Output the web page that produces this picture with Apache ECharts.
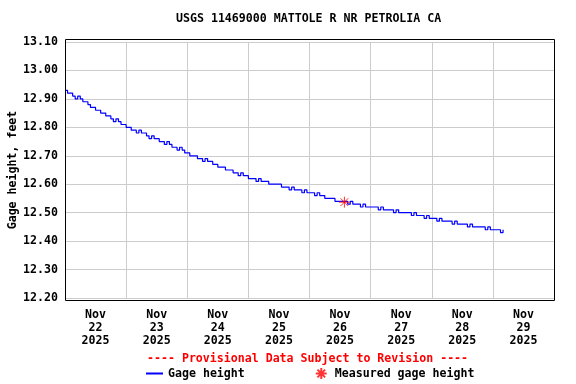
<!DOCTYPE html>
<html>
<head>
<meta charset="utf-8">
<script src="https://cdn.jsdelivr.net/npm/echarts@6/dist/echarts.min.js"></script>
<style>html,body{margin:0;padding:0;background:#fff}#c{width:576px;height:384px}</style>
</head>
<body>
<div id="c"></div>
<script>
// Hourly gage height readings (feet), starting Nov 22 2025 00:00
const day22 = [12.93,12.92,12.92,12.91,12.90,12.91,12.90,12.89,12.89,12.88,12.87,12.87,12.86,12.86,12.85,12.85,12.84,12.84,12.83,12.82,12.83,12.82,12.81,12.81];
const day23 = [12.80,12.80,12.79,12.79,12.78,12.79,12.78,12.78,12.77,12.76,12.77,12.76,12.76,12.75,12.75,12.74,12.75,12.74,12.73,12.73,12.72,12.73,12.72,12.71];
const day24 = [12.71,12.70,12.70,12.70,12.69,12.69,12.68,12.69,12.68,12.68,12.67,12.67,12.66,12.66,12.66,12.65,12.65,12.65,12.64,12.64,12.63,12.64,12.63,12.63];
const day25 = [12.62,12.62,12.62,12.61,12.62,12.61,12.61,12.61,12.60,12.60,12.60,12.60,12.60,12.59,12.59,12.59,12.58,12.59,12.58,12.58,12.58,12.57,12.58,12.57];
const day26 = [12.57,12.57,12.56,12.57,12.56,12.56,12.55,12.55,12.55,12.55,12.54,12.54,12.54,12.54,12.54,12.53,12.54,12.53,12.53,12.53,12.52,12.53,12.52,12.52];
const day27 = [12.52,12.52,12.52,12.51,12.52,12.51,12.51,12.51,12.51,12.50,12.51,12.50,12.50,12.50,12.50,12.50,12.49,12.50,12.49,12.49,12.49,12.48,12.49,12.48];
const day28 = [12.48,12.48,12.47,12.48,12.47,12.47,12.47,12.47,12.46,12.47,12.46,12.46,12.46,12.46,12.45,12.46,12.45,12.45,12.45,12.45,12.45,12.44,12.45,12.44];
const day29 = [12.44,12.44,12.44,12.43,12.44];
const gageHeight = [].concat(day22, day23, day24, day25, day26, day27, day28, day29);

// Measured gage height: [hours since Nov 22 00:00, feet]
const measured = [[109.7, 12.537]];

const dayLabels = ['Nov\n22\n2025','Nov\n23\n2025','Nov\n24\n2025','Nov\n25\n2025','Nov\n26\n2025','Nov\n27\n2025','Nov\n28\n2025','Nov\n29\n2025'];
const yTicks = {min: 12.2, max: 13.1, interval: 0.1};

const FONT = '"DejaVu Sans Mono", monospace';
const FS = 11.6;

const chart = echarts.init(document.getElementById('c'), null, {renderer: 'canvas'});
chart.setOption({
  animation: false,
  backgroundColor: '#ffffff',
  title: [{
    text: 'USGS 11469000 MATTOLE R NR PETROLIA CA',
    left: 176, top: 13, padding: 0,
    textStyle: {fontFamily: FONT, fontSize: FS, fontWeight: 'bold', color: '#000'}
  }, {
    text: '---- Provisional Data Subject to Revision ----',
    left: 147, top: 353, padding: 0,
    textStyle: {fontFamily: FONT, fontSize: FS, fontWeight: 'bold', color: '#ff0000'}
  }],
  legend: {
    left: 145, top: 367, padding: 0,
    itemWidth: 17, itemHeight: 11, itemGap: 70,
    textStyle: {fontFamily: FONT, fontSize: FS, fontWeight: 'bold', color: '#000'},
    data: [
      {name: 'Gage height', itemStyle: {opacity: 0}},
      {name: 'Measured gage height'}
    ]
  },
  grid: {left: 65, right: 22, top: 42, bottom: 86, containLabel: false, outerBoundsMode: 'none'},
  xAxis: [{
    type: 'value', min: 0, max: 192, show: false
  }, {
    type: 'category', data: dayLabels, boundaryGap: true, position: 'bottom',
    axisLine: {show: false}, axisTick: {show: false},
    axisLabel: {margin: 10, fontFamily: FONT, fontSize: FS, fontWeight: 'bold', color: '#000', lineHeight: 13, interval: 0},
    splitLine: {show: true, lineStyle: {color: '#cccccc', width: 1}}
  }],
  yAxis: {
    type: 'value', min: yTicks.min, max: yTicks.max, interval: yTicks.interval,
    name: 'Gage height, feet', nameLocation: 'middle', nameGap: 46, nameMoveOverlap: false,
    nameTextStyle: {fontFamily: FONT, fontSize: FS, fontWeight: 'bold', color: '#000'},
    axisLine: {show: false}, axisTick: {show: false},
    axisLabel: {margin: 7, fontFamily: FONT, fontSize: FS, fontWeight: 'bold', color: '#000', formatter: v => v.toFixed(2)},
    splitLine: {show: true, lineStyle: {color: '#cccccc', width: 1}}
  },
  graphic: [{
    type: 'rect', z: 100, silent: true,
    shape: {x: 65.5, y: 39.5, width: 489, height: 261},
    style: {fill: 'none', stroke: '#000', lineWidth: 1}
  }],
  series: [{
    name: 'Gage height', type: 'line', xAxisIndex: 0, step: 'end',
    color: '#0000ff',
    data: gageHeight.map((v, i) => [i, v]),
    symbol: 'none', showSymbol: false,
    lineStyle: {color: '#0000ff', width: 1.2},
    itemStyle: {color: '#0000ff'}, z: 3
  }, {
    name: 'Measured gage height', type: 'scatter', xAxisIndex: 0,
    color: '#ff0000',
    data: measured,
    symbol: 'path://M6,0L6,12M0,6L12,6M1.8,1.8L10.2,10.2M10.2,1.8L1.8,10.2',
    symbolSize: 11,
    itemStyle: {color: '#ff0000', borderColor: '#ff0000', borderWidth: 1}, z: 5
  }]
});
</script>
</body>
</html>
